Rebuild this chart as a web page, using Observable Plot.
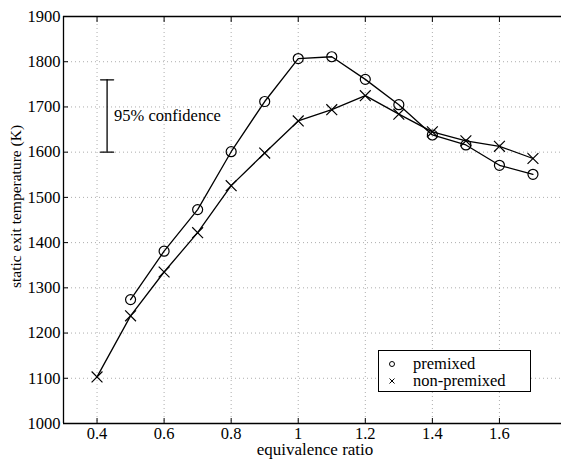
<!DOCTYPE html>
<html><head><meta charset="utf-8">
<script src="https://cdn.jsdelivr.net/npm/d3@7"></script>
<script src="https://cdn.jsdelivr.net/npm/@observablehq/plot@0.6"></script>
<style>
body{margin:0;background:#fff;}
#wrap{position:relative;width:561px;height:466px;overflow:hidden;font-family:"Liberation Serif","Times New Roman",serif;}
#legend{position:absolute;left:378px;top:350px;width:153px;height:42px;border:1px solid #000;background:#fff;box-sizing:border-box;font-size:16.5px;color:#000;}
#legend .row{position:absolute;left:0;width:100%;height:16px;line-height:16px;white-space:nowrap;}
#legend svg{position:absolute;left:8px;top:3px;}
#legend span{position:absolute;left:34px;top:0px;}
</style></head>
<body><div id="wrap"></div>
<script>
// data
const phiPremixed = [0.5,0.6,0.7,0.8,0.9,1.0,1.1,1.2,1.3,1.4,1.5,1.6,1.7];
const tPremixed   = [1274,1381,1473,1601,1712,1807,1811,1761,1705,1638,1616,1571,1551];
const phiNon = [0.4,0.5,0.6,0.7,0.8,0.9,1.0,1.1,1.2,1.3,1.4,1.5,1.6,1.7];
const tNon   = [1103,1238,1335,1422,1526,1598,1669,1694,1725,1684,1645,1625,1613,1586];
const xTicks = [0.4,0.6,0.8,1,1.2,1.4,1.6];
const yTicks = [1000,1100,1200,1300,1400,1500,1600,1700,1800,1900];
const xDomain = [0.3, 1.8];
const yDomain = [1000, 1900];
const confX = 0.43, confLow = 1600, confHigh = 1760;
const confText = "95% confidence";
const seriesNames = ["premixed","non-premixed"];
const xLabel = "equivalence ratio";
const yLabel = "static exit temperature (K)";

const pre = phiPremixed.map((x,i)=>({x, y:tPremixed[i]}));
const non = phiNon.map((x,i)=>({x, y:tNon[i]}));
const conf = [{x:confX, y1:confLow, y2:confHigh}];
const caps = [confLow, confHigh].map(y=>({x:confX, y}));
const capShape = {draw(context, l) { context.moveTo(0, 0); context.lineTo(0, -l); }};

const font = "Liberation Serif";
const chart = Plot.plot({
  width: 561, height: 466,
  marginLeft: 63, marginRight: -5, marginTop: 16, marginBottom: 43,
  style: {fontFamily: font, fontSize: "17px", color: "#000", background: "#fff"},
  x: {domain: xDomain},
  y: {domain: yDomain},
  marks: [
    Plot.gridX(xTicks, {stroke: "#999", strokeOpacity: 0.8, strokeDasharray: "1,3"}),
    Plot.gridY(yTicks, {stroke: "#999", strokeOpacity: 0.8, strokeDasharray: "1,3"}),
    Plot.axisX({ticks: xTicks, tickSize: 0, tickPadding: 4, tickFormat: d => String(d), label: null, fontSize: 16.5}),
    Plot.axisX({ticks: xTicks, tickSize: -5, tickFormat: () => "", label: null}),
    Plot.axisX({ticks: xTicks, anchor: "top", tickSize: -5, tickFormat: () => "", label: null}),
    Plot.axisY({ticks: yTicks, tickSize: 0, tickPadding: 3, tickFormat: d => String(d), label: null, fontSize: 16.5}),
    Plot.axisY({ticks: yTicks, tickSize: -5, tickFormat: () => "", label: null}),
    Plot.ruleY([yDomain[0]], {stroke: "#000", strokeWidth: 1.3}),
    Plot.ruleY([yDomain[1]], {stroke: "#000", strokeWidth: 1.3}),
    Plot.ruleX([xDomain[0]], {stroke: "#000", strokeWidth: 1.3}),
    Plot.line(pre, {x: "x", y: "y", stroke: "#000", strokeWidth: 1.3}),
    Plot.line(non, {x: "x", y: "y", stroke: "#000", strokeWidth: 1.3}),
    Plot.dot(pre, {x: "x", y: "y", r: 5, stroke: "#000", strokeWidth: 1.2, fill: "none"}),
    Plot.dot(non, {x: "x", y: "y", r: 5, symbol: "times", stroke: "#000", strokeWidth: 1.2, fill: "none"}),
    Plot.ruleX(conf, {x: "x", y1: "y1", y2: "y2", stroke: "#000", strokeWidth: 1.3}),
    Plot.vector(caps, {x: "x", y: "y", length: 13, rotate: 90, anchor: "middle", shape: capShape, stroke: "#000", strokeWidth: 1.3}),
    Plot.text([confText], {x: confX, y: (confLow + confHigh) / 2, dx: 7, textAnchor: "start", fontSize: 16.5, fill: "#000"}),
    Plot.text([xLabel], {frameAnchor: "bottom", textAnchor: "middle", dy: 31, fontSize: 17, fill: "#000"}),
    Plot.text([yLabel], {frameAnchor: "left", textAnchor: "middle", lineAnchor: "middle", dx: -47, dy: -13.5, rotate: -90, fontSize: 15.5, fill: "#000"})
  ]
});
const wrap = document.getElementById("wrap");
wrap.appendChild(chart);

const legend = document.createElement("div");
legend.id = "legend";
const glyphs = [
  '<svg width="10" height="10"><circle cx="5" cy="5" r="2.5" fill="none" stroke="#000" stroke-width="1"/></svg>',
  '<svg width="10" height="10"><path d="M2.5,2.5L7.5,7.5M7.5,2.5L2.5,7.5" stroke="#000" stroke-width="1"/></svg>'
];
seriesNames.forEach((name, i) => {
  const row = document.createElement("div");
  row.className = "row";
  row.style.top = (5 + i * 17) + "px";
  row.innerHTML = glyphs[i] + "<span>" + name + "</span>";
  legend.appendChild(row);
});
wrap.appendChild(legend);
</script></body></html>
